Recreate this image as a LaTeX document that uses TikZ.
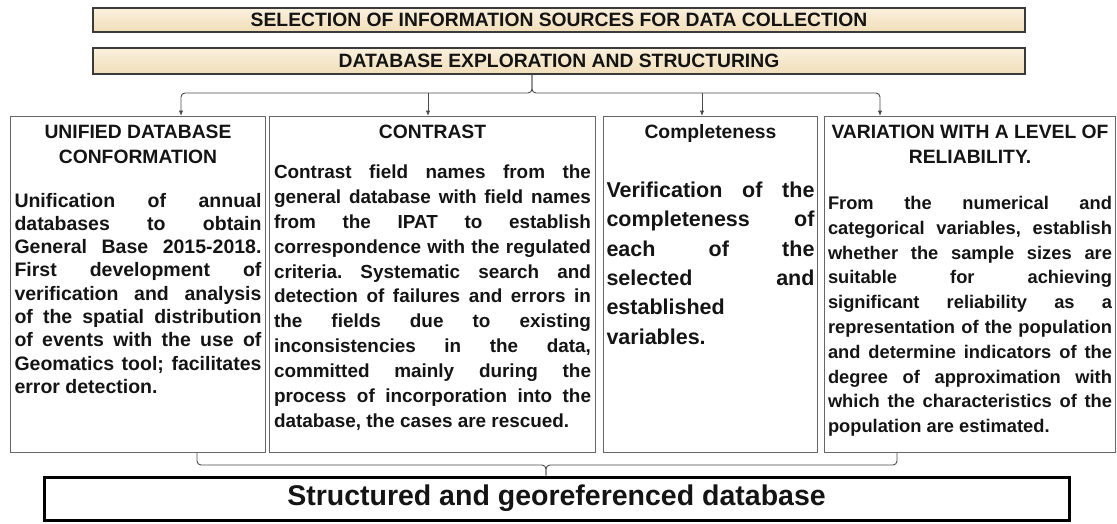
\documentclass[tikz,border=0pt]{standalone}
\usepackage{fontspec}
\setmainfont{Liberation Sans}
\usetikzlibrary{arrows.meta,shadows}
\frenchspacing
\definecolor{barA}{HTML}{FAF0DD}
\definecolor{barB}{HTML}{F1DEBA}
\definecolor{bardraw}{HTML}{3A3A3A}
\definecolor{boxdraw}{HTML}{666666}
\definecolor{conncol}{HTML}{4A4A4A}
\definecolor{txt}{HTML}{141414}
\newcommand{\cell}[3]{\begin{minipage}[c][#2][t]{#1}\frenchspacing\hyphenpenalty=10000\exhyphenpenalty=10000\tolerance=10000\color{txt}\bfseries #3\end{minipage}}
\begin{document}
\begin{tikzpicture}[x=1pt,y=-1pt,
  bar/.style={draw=bardraw,line width=1.3pt,top color=barA,bottom color=barB,
    minimum width=932pt,inner sep=0pt,font=\fontsize{19.3}{22}\selectfont\bfseries,text=txt,
    drop shadow={shadow xshift=1pt,shadow yshift=-1.2pt,opacity=0.25}},
  box/.style={draw=boxdraw,line width=1pt,inner ysep=0pt,anchor=north west},
  conn/.style={draw=conncol,line width=0.9pt},
  arr/.style={-{Latex[length=5.5pt,width=4.5pt]}},
  final/.style={draw=black,line width=3pt,minimum width=1025pt,minimum height=43pt,inner sep=0pt,
    font=\fontsize{28.5}{32}\selectfont\bfseries,text=txt}]
\useasboundingbox (0,0) rectangle (1117,523);

\node[bar,minimum height=24pt] (bar1) at (559,20) {SELECTION OF INFORMATION SOURCES FOR DATA COLLECTION};
\node[bar,minimum height=26pt] (bar2) at (559,61) {DATABASE EXPLORATION AND STRUCTURING};

\node[box,inner xsep=4pt] (b1) at (10,116) {\cell{247pt}{336pt}{%
  {\fontsize{19.3}{25}\selectfont\centering\rule{0pt}{22.3pt}UNIFIED DATABASE\\CONFORMATION\par}
  \vspace{19.9pt}
  {\fontsize{19.5}{23.3}\selectfont
  Unification of annual\linebreak
  databases to obtain\linebreak
  General Base 2015-2018.\linebreak
  First development of\linebreak
  verification and analysis\linebreak
  of the spatial distribution\linebreak
  of events with the use of\linebreak
  Geomatics tool; facilitates\linebreak
  error detection.\par}}};

\node[box,inner xsep=4.5pt] (b2) at (269,116) {\cell{317pt}{336pt}{%
  {\fontsize{19.3}{25}\selectfont\centering\rule{0pt}{22.3pt}CONTRAST\par}
  \vspace{15.2pt}
  {\fontsize{18.9}{24.83}\selectfont
  Contrast field names from the\linebreak
  general database with field names\linebreak
  from the IPAT to establish\linebreak
  correspondence with the regulated\linebreak
  criteria. Systematic search and\linebreak
  detection of failures and errors in\linebreak
  the fields due to existing\linebreak
  inconsistencies in the data,\linebreak
  committed mainly during the\linebreak
  process of incorporation into the\linebreak
  database, the cases are rescued.\par}}};

\node[box,inner xsep=3pt] (b3) at (603,116) {\cell{208pt}{336pt}{%
  {\fontsize{19.3}{25}\selectfont\centering\rule{0pt}{22.3pt}Completeness\par}
  \vspace{29pt}
  {\fontsize{21.5}{29.4}\selectfont
  Verification of the\linebreak
  completeness of\linebreak
  each of the\linebreak
  selected and\linebreak
  established\linebreak
  variables.\par}}};

\node[box,inner xsep=3.5pt] (b4) at (824,116) {\cell{284pt}{336pt}{%
  {\fontsize{19.3}{25}\selectfont\centering\rule{0pt}{22.3pt}VARIATION WITH A LEVEL OF\\RELIABILITY.\par}
  \vspace{20.9pt}
  {\fontsize{18.3}{24.8}\selectfont
  From the numerical and\linebreak
  categorical variables, establish\linebreak
  whether the sample sizes are\linebreak
  suitable for achieving\linebreak
  significant reliability as a\linebreak
  representation of the population\linebreak
  and determine indicators of the\linebreak
  degree of approximation with\linebreak
  which the characteristics of the\linebreak
  population are estimated.\par}}};

\node[final] (bot) at (556.5,498.5) {Structured and georeferenced database};

% top distribution bracket
\coordinate (hub) at (532,93);
\coordinate (x1) at (181,0);
\coordinate (x2) at (428,0);
\coordinate (x3) at (702,0);
\coordinate (x4) at (880,0);
\draw[conn,arr,rounded corners=4pt] (bar2.south -| hub) -- (hub) -| (b1.north -| x1);
\draw[conn,arr,rounded corners=4pt] (bar2.south -| hub) -- (hub) -| (b4.north -| x4);
\draw[conn,arr] (hub -| x2) -- (b2.north -| x2);
\draw[conn,arr] (hub -| x3) -- (b3.north -| x3);

% bottom gathering bracket
\coordinate (bhub) at (546,465);
\coordinate (y1) at (197,0);
\coordinate (y4) at (897,0);
\draw[conn,rounded corners=4pt] (b1.south -| y1) |- (bhub) -- (bot.north -| bhub);
\draw[conn,rounded corners=4pt] (b4.south -| y4) |- (bhub) -- (bot.north -| bhub);
\end{tikzpicture}
\end{document}
